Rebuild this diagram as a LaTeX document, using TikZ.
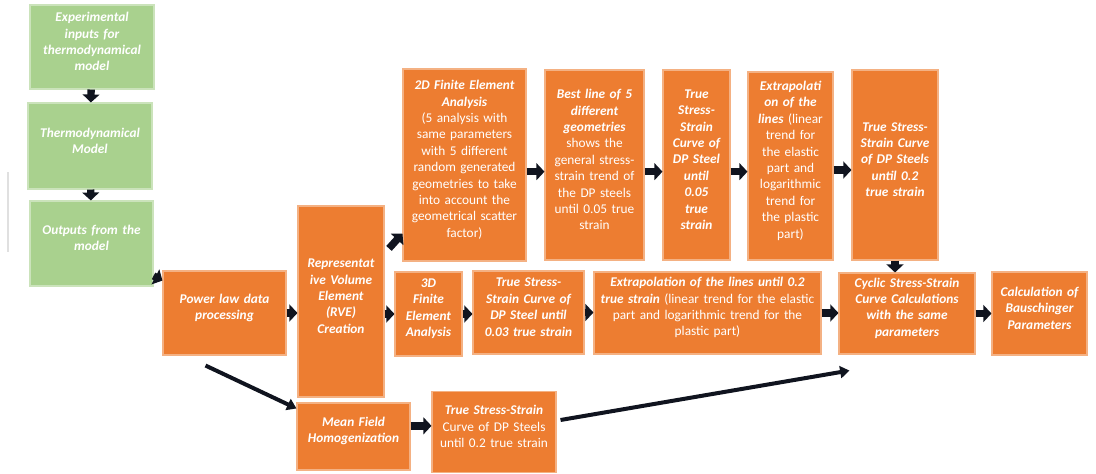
\documentclass[tikz,border=0pt]{standalone}
\usepackage{fontspec}
\setmainfont{Carlito}
\usetikzlibrary{arrows.meta, positioning, calc}

\definecolor{boxgreen}{HTML}{A9D18E}
\definecolor{boxorange}{HTML}{ED7D31}
\definecolor{arrowdark}{HTML}{10141F}
\newcommand{\desc}{\mdseries\upshape}

\begin{document}
\begin{tikzpicture}[
      x=0.75pt, y=-0.75pt,
      card/.style={rectangle, line width=0.8pt, text=white, inner sep=2pt, align=center,
                   font=\fontsize{10}{12.3}\selectfont\bfseries\itshape,
                   execute at end node={\endgraf\vspace{8pt}}},
      gbox/.style={card, fill=boxgreen, draw=boxgreen!60!white},
      obox/.style={card, fill=boxorange, draw=boxorange!60!white},
      wh/.code 2 args={\pgfmathsetmacro\bw{#1*0.75}\pgfmathsetmacro\bh{#2*0.75}%
                       \pgfmathsetmacro\tw{(#1-8)*0.75}%
                       \edef\tmp{\noexpand\tikzset{minimum width=\bw pt, minimum height=\bh pt, text width=\tw pt}}\tmp},
      fat/.style={draw=arrowdark, line width=5.5pt, -{Triangle[length=6pt, width=12.5pt]}},
      thin/.style={draw=arrowdark, line width=3pt, -{Triangle[length=7pt, width=9pt]}}
      ]
      \useasboundingbox (0,0) rectangle (1096,474);

      % Thermodynamical model
      \node[gbox, wh={124}{84}] (g1) at (92,47) {Experimental\\inputs for\\thermodynamical\\model};
      \node[gbox, wh={124}{86}] (g2) at (90,146) {Thermodynamical\\Model};
      \node[gbox, wh={123}{85}] (g3) at (91.5,243.5) {Outputs from the\\model};
      \draw[black!12, line width=2pt] (8,172) -- (8,252);

      % Middle row
      \node[obox, wh={123}{84}] (power) at (224.5,313) {Power law data\\processing};
      \node[obox, wh={86}{191}] (rve) at (341,301.5) {Representat\\ive Volume\\Element\\(RVE)\\Creation};
      \node[obox, wh={67}{84}] (fe3d) at (428.5,314) {3D\\Finite\\Element\\Analysis};
      \node[obox, wh={111}{83}] (ss03) at (528.5,312.5) {True Stress-\\Strain Curve of\\DP Steel until\\0.03 true strain};
      \node[obox, wh={227}{82}] (extrl) at (707.5,313) {Extrapolation of the lines until 0.2\\true strain \desc(linear trend for the elastic\\part and logarithmic trend for the\\plastic part)};
      \node[obox, wh={136}{81}] (cyclic) at (907,313.5) {Cyclic Stress-Strain\\Curve Calculations\\with the same\\parameters};
      \node[obox, wh={95}{83}] (bausch) at (1039.5,313.5) {Calculation of\\Bauschinger\\Parameters};

      % Top row (2D)
      \node[obox, wh={123}{192}] (fe2d) at (464.5,165) {2D Finite Element\\Analysis\\\desc(5 analysis with\\same parameters\\with 5 different\\random generated\\geometries to take\\into account the\\geometrical scatter\\factor)};
      \node[obox, wh={99}{190}] (best) at (594.5,165) {Best line of 5\\different\\geometries\\\desc shows the\\general stress-\\strain trend of\\the DP steels\\until 0.05 true\\strain};
      \node[obox, wh={67}{190}] (ss05) at (696.5,165) {True\\Stress-\\Strain\\Curve of\\DP Steel\\until\\0.05\\true\\strain};
      \node[obox, wh={85}{188}] (extr) at (790.5,166) {Extrapolati\\on of the\\lines \desc(linear\\trend for\\the elastic\\part and\\logarithmic\\trend for\\the plastic\\part)};
      \node[obox, wh={86}{190}] (ss02) at (895,165) {True Stress-\\Strain Curve\\of DP Steels\\until 0.2\\true strain};

      % Bottom row (mean field)
      \node[obox, wh={113}{67}] (mfh) at (353.5,436.5) {Mean Field\\Homogenization};
      \node[obox, wh={124}{81}] (ssb) at (494,432) {True Stress-Strain\\\desc Curve of DP Steels\\until 0.2 true strain};

      % Arrows
      \draw[fat] (g1) -- (g2);
      \draw[fat] (g2) -- (g3);
      \draw[fat] (g3) -- (power);
      \draw[fat] (power.east) -- (power.east -| rve.west);
      \draw[fat, shorten <=5pt] (rve) -- (fe2d);
      \draw[fat] (rve.east |- fe3d.west) -- (fe3d.west);
      \draw[fat] (fe3d.east) -- (fe3d.east -| ss03.west);
      \draw[fat] (ss03.east) -- (ss03.east -| extrl.west);
      \draw[fat] (extrl.east) -- (extrl.east -| cyclic.west);
      \draw[fat] (cyclic.east) -- (cyclic.east -| bausch.west);
      \draw[fat] ([yshift=-5pt]fe2d.east) -- ([yshift=-5pt]fe2d.east -| best.west);
      \draw[fat] ([yshift=-5pt]best.east) -- ([yshift=-5pt]best.east -| ss05.west);
      \draw[fat] ([yshift=-5pt]ss05.east) -- ([yshift=-5pt]ss05.east -| extr.west);
      \draw[fat] ([yshift=-3pt]extr.east) -- ([yshift=-3pt]extr.east -| ss02.west);
      \draw[fat] (ss02.south) -- (ss02.south |- cyclic.north);
      \draw[fat] ([yshift=8pt]mfh.east) -- ([yshift=8pt]mfh.east -| ssb.west);
      \draw[thin] ($(power.south)+(-19,10)$) -- ($(mfh.north west)+(0,6)$);
      \draw[thin] ($(ssb.east)+(4,-12)$) -- ($(cyclic.south west)+(11,16)$);
\end{tikzpicture}
\end{document}
